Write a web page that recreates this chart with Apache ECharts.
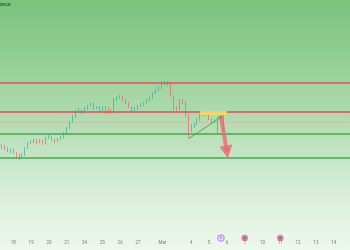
<!DOCTYPE html>
<html><head><meta charset="utf-8">
<script src="https://cdn.jsdelivr.net/npm/echarts@6/dist/echarts.min.js"></script>
<style>
html,body{margin:0;padding:0;}
#c{width:350px;height:250px;background:linear-gradient(to bottom,#79c37c 0%,#94cf96 25%,#b4ddb4 50%,#dcf0dc 80%,#eef8ee 100%);}
</style>
</head><body><div id="c"></div>
<script>
// ---- data ----
const leadDay = '17';
const tickDays = ['18','19','20','21','24','25','26','27','28','Mar','4','5','6','7','10','11','12','13','14'];
const hiddenTicks = ['28'];
const leadBars = 4;
const barsPerDay = 6;
// [open, close, low, high]
const candles = [
  [86,85,83,88],[85,84,82,87],[84,81,80,85],[81,82,79,84],[82,79,78,83],[79,76,74,80],
  [76,75,72,78],[75,77,74,79],[77,84,76,85],[84,89,83,90],[89,90,88,92],[90,92,89,93],
  [92,90,88,93],[90,91,89,93],[91,89,87,92],[89,94,88,95],[94,95,93,97],[95,92,91,96],
  [92,91,89,93],[91,93,90,94],[93,94,92,96],[94,99,93,100],[99,104,98,105],[104,110,103,111],
  [110,115,109,117],[115,121,114,122],[121,122,119,124],[122,120,118,123],[120,123,119,125],[123,126,122,127],
  [126,128,125,130],[128,124,122,129],[124,125,123,126],[125,122,120,126],[122,125,121,126],[125,124,118,126],
  [124,121,119,125],[121,120,118,123],[120,133,119,134],[133,134,131,136],[134,135,133,137],[135,132,131,136],
  [132,129,128,133],[129,125,124,130],[125,122,120,126],[122,123,121,125],[123,126,122,127],[126,127,125,129],
  [127,129,126,130],[129,132,128,133],[132,134,131,135],[134,139,133,140],[139,142,138,143],[142,144,141,146],
  [144,149,143,151],[149,150,147,151],[150,149,146,151],[149,136,135,150],[136,124,122,137],[124,123,121,126],
  [123,132,122,133],[132,130,128,133],[130,117,115,131],[117,102,94,118],[102,106,100,108],[106,108,104,109],
  [108,112,107,114],[112,117,111,118],[117,119,116,121],[119,118,116,120],[118,113,112,119],[113,110,108,114],
  [110,112,109,113],[112,114,99,115],[114,116,113,117],[116,108,100,117]
];
const levelsRed = [149, 120];
const levelsGreen = [98, 74];
const lastPriceLine = 110;
const zoneBox = [[67,121],[76,117]];
const trendLine = [[63,93],[74,115]];
const forecastArrow = [[74,116],[76,80]];
const eventSlots = [74, 82, 94];
const eventKinds = ['div','earn','earn'];
const headerText = 'ance';

// ---- categories ----
const categories = [];
for (let i = 0; i < leadBars; i++) categories.push(leadDay + '|' + i);
tickDays.forEach(d => { for (let j = 0; j < barsPerDay; j++) categories.push(d + '|' + j); });

const chart = echarts.init(document.getElementById('c'), null, {renderer:'canvas'});

const option = {
  animation: false,
  backgroundColor: 'transparent',
  grid: {left: 0, right: 0, top: 0, bottom: 18, containLabel: false},
  xAxis: {
    type: 'category', data: categories, boundaryGap: true,
    axisLine: {show: false}, axisTick: {show: false},
    splitLine: {show: false},
    axisLabel: {
      fontSize: 4.5, color: '#777', margin: 8, fontFamily: 'Roboto',
      interval: (idx, val) => {
        const [d, j] = val.split('|');
        return j === '0' && d !== leadDay && idx >= leadBars && !hiddenTicks.includes(d);
      },
      formatter: (val) => {
        const d = val.split('|')[0];
        return d === 'Mar' ? '{m|Mar}' : d;
      },
      rich: {m: {fontSize: 4.5, color: '#777', padding: [0, 22, 0, 0], fontFamily: 'Roboto'}}
    }
  },
  yAxis: {type: 'value', min: 0, max: 232, show: false, splitLine: {show: false}},
  series: [
    {
      type: 'line', data: [], z: 1, silent: true,
      markLine: {
        silent: true, z: 2, symbol: ['none','none'], label: {show: false}, animation: false,
        data: [
          ...levelsRed.map(v => ({yAxis: v, lineStyle: {color: '#e06a6a', width: 2, type: 'solid'}})),
          ...levelsGreen.map(v => ({yAxis: v, lineStyle: {color: '#45a74f', width: 1.5, type: 'solid'}})),
          {yAxis: lastPriceLine, lineStyle: {color: 'rgba(235,160,160,0.45)', width: 1, type: 'solid'}}
        ]
      }
    },
    {
      type: 'line', data: [], z: 5, silent: true,
      markArea: {
        silent: true, z: 8,
        itemStyle: {color: 'rgba(250,220,95,0.88)'},
        data: [[{coord: zoneBox[0]}, {coord: zoneBox[1]}]]
      }
    },
    {
      type: 'candlestick', data: candles, z: 3, barWidth: 1.3,
      itemStyle: {color: '#26a69a', color0: '#ef5350', borderColor: '#26a69a', borderColor0: '#ef5350', borderWidth: 0.6},
      markLine: {
        silent: true, z: 9, label: {show: false}, animation: false,
        data: [
          [{coord: trendLine[0], symbol: 'none', lineStyle: {color: '#3a9a48', width: 0.8, type: 'solid'}},
           {coord: trendLine[1], symbol: 'triangle', symbolSize: 4}],
          [{coord: forecastArrow[0], symbol: 'none', lineStyle: {color: 'rgba(236,105,115,0.8)', width: 4, type: 'solid'}},
           {coord: forecastArrow[1], symbol: 'triangle', symbolSize: 13}]
        ]
      }
    }
  ]
};
chart.setOption(option);

// event icons under the price pane
const iconY = 238;
const graphics = [{type:'text', left: 0, top: 2, style: {text: headerText, fontSize: 5, fill: '#333', fontFamily: 'Roboto'}}];
eventSlots.forEach((s, k) => {
  const x = chart.convertToPixel({xAxisIndex: 0}, s);
  if (eventKinds[k] === 'div') {
    graphics.push({type:'circle', shape:{cx:x, cy:iconY, r:3.3}, style:{fill:'rgba(235,220,250,0.9)', stroke:'#9a6ad2', lineWidth:0.8}});
    graphics.push({type:'text', x:x, y:iconY, style:{text:'D', fontSize:3.5, fill:'#7a4ab2', align:'center', verticalAlign:'middle'}});
  } else {
    graphics.push({type:'circle', shape:{cx:x, cy:iconY, r:3.3}, style:{fill:'rgba(240,110,125,0.85)'}});
    graphics.push({type:'circle', shape:{cx:x, cy:iconY, r:1.6}, style:{fill:'#5b7fd6'}});
  }
});
chart.setOption({graphic: graphics});
</script>
</body></html>
